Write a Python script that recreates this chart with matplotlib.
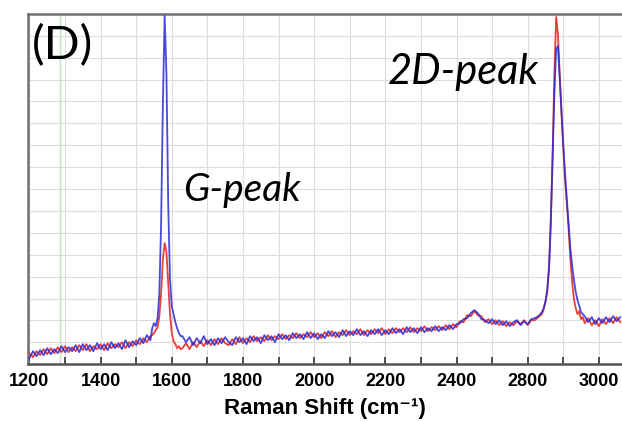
import numpy as np
import matplotlib
matplotlib.use("Agg")
import matplotlib.pyplot as plt
from matplotlib.ticker import MultipleLocator

# Raman shift sample positions (cm-1), split by region
shift_a = [1200, 1210, 1220, 1230, 1240, 1250, 1260, 1270, 1280, 1290,
           1300, 1310, 1320, 1330, 1340, 1350, 1360, 1370, 1380, 1390,
           1400, 1410, 1420, 1430, 1440, 1450, 1460, 1470, 1480, 1490,
           1500, 1510, 1520, 1530, 1540]
shift_g = [1545, 1550, 1555, 1560, 1565, 1570, 1575, 1580, 1585, 1590,
           1595, 1600, 1605, 1610, 1615, 1620, 1625]
shift_c = [1630, 1640, 1650, 1660, 1670, 1680, 1690, 1700, 1710, 1720,
           1730, 1740, 1750, 1760, 1770, 1780, 1790, 1800, 1810, 1820,
           1830, 1840, 1850, 1860, 1870, 1880, 1890, 1900, 1910, 1920,
           1930, 1940, 1950, 1960, 1970, 1980, 1990, 2000, 2010, 2020,
           2030, 2040, 2050, 2060, 2070, 2080, 2090, 2100, 2110, 2120,
           2130, 2140, 2150, 2160, 2170, 2180, 2190, 2200, 2210, 2220,
           2230, 2240, 2250, 2260, 2270, 2280, 2290, 2300, 2310, 2320,
           2330, 2340, 2350, 2360, 2370, 2380, 2390, 2400, 2410, 2420,
           2430, 2440, 2450, 2460, 2470, 2480, 2490, 2500, 2510, 2520,
           2530, 2540, 2550, 2560, 2570, 2580, 2590, 2600, 2610, 2620,
           2630, 2640]
shift_2d = [2645, 2650, 2655, 2660, 2665, 2670, 2675, 2680, 2685, 2690,
            2695, 2700, 2705, 2710, 2715, 2720, 2725, 2730, 2735, 2740,
            2745, 2750, 2755]
shift_e = [2760, 2770, 2780, 2790, 2800, 2810, 2820, 2830, 2840, 2850, 2860]

# blue spectrum (intensity, arb. units)
blue_a = [6, 13, 8, 14, 9, 16, 10, 15, 11, 18,
          12, 17, 13, 19, 12, 20, 14, 19, 13, 21,
          15, 20, 14, 22, 16, 21, 15, 24, 17, 23,
          19, 26, 21, 29, 24]
blue_g = [36, 41, 38, 46, 70, 140, 260, 348, 290, 160,
          85, 58, 50, 42, 36, 31, 28]
blue_c = [28, 22, 27, 19, 26, 21, 28, 20, 25, 19,
          26, 21, 27, 22, 19, 27, 22, 26, 20, 28,
          23, 27, 21, 29, 24, 28, 22, 30, 25, 29,
          24, 31, 26, 30, 25, 32, 26, 31, 25, 30,
          26, 33, 28, 32, 27, 34, 28, 33, 29, 35,
          29, 33, 28, 34, 30, 35, 29, 34, 30, 36,
          31, 35, 30, 37, 32, 36, 31, 37, 32, 36,
          33, 38, 33, 37, 34, 39, 35, 40, 41, 45,
          46, 51, 54, 51, 45, 44, 41, 45, 40, 44,
          39, 43, 38, 42, 44, 39, 43, 40, 45, 46,
          48, 52]
blue_2d = [56, 63, 75, 98, 145, 205, 270, 315, 318, 285,
           250, 220, 190, 165, 140, 115, 98, 84, 72, 64,
           58, 52, 50]
blue_e = [48, 42, 47, 40, 46, 41, 47, 42, 48, 43, 47]

# red spectrum (intensity, arb. units)
red_a = [11, 7, 13, 9, 15, 10, 16, 11, 17, 12,
         18, 12, 17, 13, 19, 14, 20, 13, 18, 15,
         20, 14, 21, 16, 20, 17, 22, 16, 22, 18,
         24, 20, 26, 22, 28]
red_g = [29, 31, 34, 37, 48, 70, 105, 121, 112, 80,
         50, 31, 23, 20, 16, 18, 15]
red_c = [16, 21, 15, 22, 17, 23, 18, 24, 19, 25,
         20, 26, 21, 19, 25, 20, 27, 21, 26, 22,
         28, 23, 27, 23, 29, 24, 28, 25, 30, 25,
         29, 26, 31, 26, 30, 27, 32, 27, 31, 26,
         32, 28, 33, 27, 32, 29, 34, 29, 33, 30,
         35, 29, 34, 30, 35, 31, 36, 30, 35, 31,
         36, 32, 36, 32, 37, 32, 36, 33, 38, 33,
         37, 34, 38, 34, 39, 35, 40, 37, 43, 42,
         49, 48, 53, 49, 48, 42, 45, 40, 44, 39,
         43, 38, 42, 39, 43, 40, 44, 39, 44, 44,
         47, 50]
red_2d = [55, 62, 72, 95, 140, 210, 290, 347, 330, 290,
          250, 215, 185, 160, 135, 105, 82, 65, 56, 50,
          53, 45, 47]
red_e = [41, 46, 39, 44, 38, 45, 40, 46, 41, 47, 42]

tick_pos = [1200, 1400, 1600, 1800, 2000, 2200, 2400, 2600, 2800]
tick_txt = ["1200", "1400", "1600", "1800", "2000", "2200", "2400", "2800", "3000"]

shift = shift_a + shift_g + shift_c + shift_2d + shift_e
blue = blue_a + blue_g + blue_c + blue_2d + blue_e
red = red_a + red_g + red_c + red_2d + red_e

fig = plt.figure(figsize=(6.22, 4.22), dpi=100)
ax = fig.add_axes([0.045, 0.137, 0.955, 0.83])

ax.set_xlim(1196, 2865)
ax.set_ylim(0, 350)

# background grid
ax.xaxis.set_major_locator(MultipleLocator(200))
ax.xaxis.set_minor_locator(MultipleLocator(100))
ax.set_yticks(np.arange(0, 351, 350 / 16))
ax.grid(True, which="both", color="#dcdcdc", lw=0.8)
ax.set_axisbelow(True)
ax.axvline(1286, color="#bfe3bf", lw=1.0, zorder=1)

ax.plot(shift, red, color="#e8403a", lw=1.3, zorder=3)
ax.plot(shift, blue, color="#2a2ad6", lw=1.3, alpha=0.85, zorder=4)

ax.set_xticks(tick_pos)
ax.set_xticklabels(tick_txt, fontsize=13, fontweight="bold",
                   family=["Liberation Sans", "DejaVu Sans"])
ax.tick_params(axis="x", which="both", direction="in", length=5, width=1.2,
               color="#333333", pad=6)
ax.tick_params(axis="y", which="both", left=False, labelleft=False)

for s in ["left", "top"]:
    ax.spines[s].set_color("#707070")
    ax.spines[s].set_linewidth(1.8)
ax.spines["bottom"].set_color("#555555")
ax.spines["bottom"].set_linewidth(1.8)
ax.spines["right"].set_visible(False)

ax.set_xlabel("Raman Shift (cm⁻¹)", fontsize=16, fontweight="bold",
              family=["Liberation Sans", "DejaVu Sans"], labelpad=6)

ax.text(1207, 318, "(D)", fontsize=34, family="Lato", va="center", ha="left")
ax.text(1633, 174, "G-peak", fontsize=28, family="Lato", style="italic",
        va="center", ha="left")
ax.text(2208, 292, "2D-peak", fontsize=30, family="Lato", style="italic",
        va="center", ha="left")

fig.savefig("out.png", dpi=100)
